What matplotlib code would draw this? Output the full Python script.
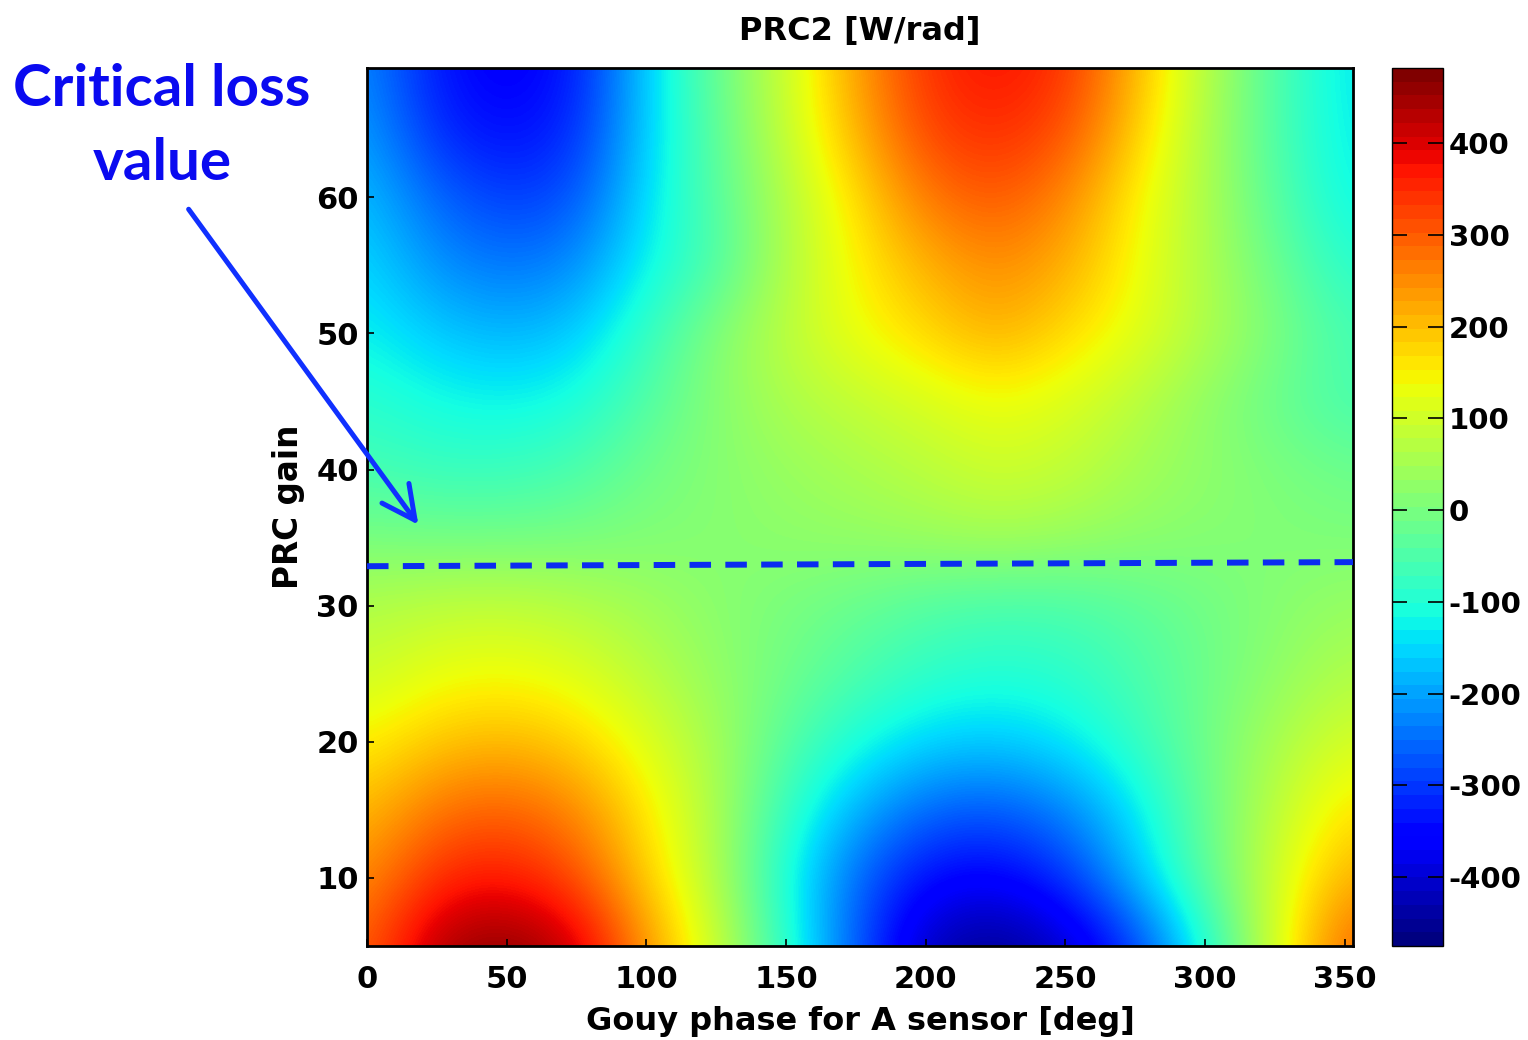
"""
PRC2 error signal map vs PRC gain and Gouy phase of the A sensor
"""

import numpy as np
import matplotlib
matplotlib.use("Agg")
import matplotlib.pyplot as plt
from matplotlib.cm import ScalarMappable
from matplotlib.colors import Normalize
from matplotlib.patches import FancyArrowPatch

# ─────────────────────────────────────────────
# Data
# ─────────────────────────────────────────────
phase_deg = [0, 25, 50, 75, 100, 125, 150, 175, 200, 225, 250, 275, 300, 325, 350]
prc_gain = [5, 10, 15, 20, 25, 30, 35, 40, 45, 50, 55, 60, 65, 70]

# PRC2 signal [W/rad], one list per gain row
row_g05 = [295, 450, 478, 430, 245, 100, -90, -270, -430, -470, -420, -310, -110, 110, 300]
row_g10 = [250, 355, 375, 320, 185, 65, -115, -260, -350, -365, -310, -175, -30, 100, 220]
row_g15 = [205, 280, 300, 260, 160, 60, -80, -190, -260, -275, -235, -140, -20, 80, 165]
row_g20 = [150, 195, 210, 185, 120, 50, -40, -110, -155, -165, -140, -80, -10, 55, 110]
row_g25 = [95, 130, 140, 120, 75, 30, -10, -50, -85, -100, -90, -55, -15, 25, 65]
row_g30 = [65, 80, 85, 70, 45, 20, 0, -20, -45, -58, -55, -35, -10, 15, 35]
row_g35 = [0, -5, -5, 0, 10, 15, 25, 30, 40, 50, 40, 25, 15, 10, 5]
row_g40 = [-60, -75, -75, -55, -10, 15, 35, 55, 75, 100, 85, 50, 25, 5, -15]
row_g45 = [-90, -115, -125, -110, -45, 15, 60, 85, 110, 135, 115, 75, 25, -20, -60]
row_g50 = [-125, -165, -185, -165, -80, 15, 80, 135, 175, 220, 175, 125, 65, 5, -60]
row_g55 = [-150, -220, -245, -225, -125, -55, 65, 150, 215, 255, 220, 140, 60, -15, -95]
row_g60 = [-175, -260, -300, -280, -145, -40, 65, 170, 275, 310, 260, 150, 60, -40, -125]
row_g65 = [-205, -320, -350, -320, -160, -30, 90, 215, 330, 355, 320, 190, 60, -50, -135]
row_g70 = [-225, -340, -370, -340, -160, -20, 95, 235, 350, 380, 350, 215, 70, -50, -140]

# critical loss line (dashed)
crit_phase = [0, 353]
crit_gain = [32.9, 33.2]

cbar_ticks = [-400, -300, -200, -100, 0, 100, 200, 300, 400]
x_ticks = [0, 50, 100, 150, 200, 250, 300, 350]
y_ticks = [10, 20, 30, 40, 50, 60]

# ─────────────────────────────────────────────
# Plot
# ─────────────────────────────────────────────
field = np.array([row_g05, row_g10, row_g15, row_g20, row_g25, row_g30, row_g35,
                  row_g40, row_g45, row_g50, row_g55, row_g60, row_g65, row_g70])
dp = phase_deg[1] - phase_deg[0]
dg = prc_gain[1] - prc_gain[0]
VMIN, VMAX = -475, 482

plt.rcParams["font.family"] = "DejaVu Sans"
plt.rcParams["font.weight"] = "bold"
plt.rcParams["axes.unicode_minus"] = False

fig = plt.figure(figsize=(15.28, 10.4), dpi=100)
ax = fig.add_axes([0.2402, 0.0904, 0.6453, 0.8442])
cax = fig.add_axes([0.911, 0.0904, 0.0334, 0.8442])

ax.imshow(field, origin="lower", aspect="auto", cmap="jet",
          vmin=VMIN, vmax=VMAX, interpolation="bicubic", interpolation_stage="data",
          extent=[phase_deg[0] - dp / 2, phase_deg[-1] + dp / 2,
                  prc_gain[0] - dg / 2, prc_gain[-1] + dg / 2])
ax.set_xlim(0, 353)
ax.set_ylim(5, 69.5)

ax.plot(crit_phase, crit_gain, color="#0a2cf0", lw=4.3, dashes=(3.6, 2.4), zorder=5)

ax.set_xticks(x_ticks)
ax.set_yticks(y_ticks)
ax.tick_params(direction="in", length=5, width=1.2, labelsize=22)
ax.tick_params(axis="x", pad=14)
ax.tick_params(axis="y", pad=6)
for sp in ax.spines.values():
    sp.set_linewidth(2)

ax.set_title("PRC2 [W/rad]", fontsize=23, fontweight="bold", pad=20)
ax.set_xlabel("Gouy phase for A sensor [deg]", fontsize=23, fontweight="bold", labelpad=8)
ax.set_ylabel("PRC gain", fontsize=23.5, fontweight="bold", labelpad=8)

# MATLAB-style banded colorbar (64 levels)
sm = ScalarMappable(norm=Normalize(VMIN, VMAX), cmap=plt.get_cmap("jet", 64))
cb = fig.colorbar(sm, cax=cax, ticks=cbar_ticks)
cb.outline.set_linewidth(1)
cax.tick_params(direction="in", length=11, width=1.2, left=True, right=True,
                labelsize=21, pad=4)

# annotation: critical loss value
fig.text(162 / 1528, 1 - 90 / 1040, "Critical loss", color="#0a0af0", fontsize=42,
         fontweight="bold", family="Lato", ha="center", va="center")
fig.text(162 / 1528, 1 - 163 / 1040, "value", color="#0a0af0", fontsize=42,
         fontweight="bold", family="Lato", ha="center", va="center")
fig.add_artist(FancyArrowPatch(
    (187 / 1528, 1 - 207 / 1040), (420 / 1528, 1 - 527 / 1040),
    transform=fig.transFigure, arrowstyle="->,head_length=1.2,head_width=0.6",
    color="#1030ff", lw=3.6, mutation_scale=20, zorder=10))

plt.savefig("out.png", dpi=100)
print("Saved: out.png")
